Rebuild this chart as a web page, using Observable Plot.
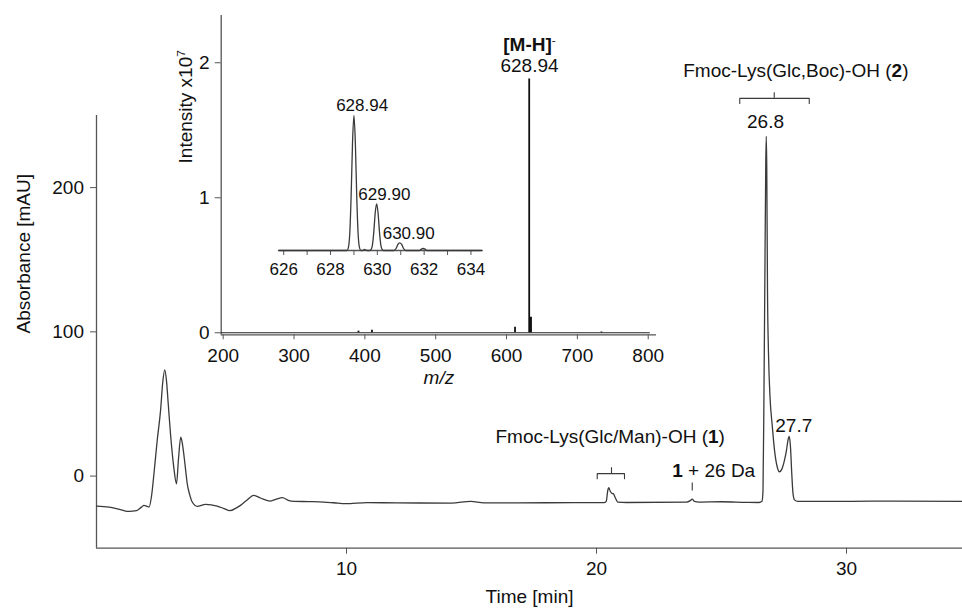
<!DOCTYPE html>
<html><head><meta charset="utf-8">
<script src="https://cdn.jsdelivr.net/npm/d3@7"></script>
<script src="https://cdn.jsdelivr.net/npm/@observablehq/plot@0.6"></script>
<style>
html,body{margin:0;padding:0;background:#fff;}
#wrap{position:relative;width:962px;height:611px;overflow:hidden;}
#wrap svg{position:absolute;max-width:none;overflow:visible;}
</style></head><body><div id="wrap"></div>
<script>
// ---------- HPLC chromatogram ----------
const timeMin = [0, 0.5, 1.0, 1.3, 1.6, 1.8, 1.9, 2.0, 2.1, 2.2, 2.3, 2.43, 2.56, 2.65, 2.73, 2.8, 2.87, 2.96, 3.09, 3.2, 3.28, 3.37, 3.43, 3.49, 3.56, 3.63, 3.73, 3.83, 4.03, 4.36, 4.83, 5.1, 5.33, 5.6, 5.76, 6.0, 6.29, 6.56, 6.96, 7.2, 7.43, 7.7, 7.89, 8.5, 9.09, 9.5, 9.96, 10.83, 12.0, 14.2, 14.97, 15.5, 18.0, 20.3, 20.39, 20.45, 20.49, 20.55, 20.62, 20.67, 20.75, 20.85, 21.2, 23.6, 23.75, 23.83, 23.92, 24.1, 25.0, 26.0, 26.5, 26.62, 26.66, 26.70, 26.74, 26.77, 26.79, 26.81, 26.84, 26.88, 26.94, 27.03, 27.12, 27.22, 27.32, 27.42, 27.52, 27.60, 27.66, 27.71, 27.76, 27.81, 27.86, 27.92, 28.05, 30, 32, 34.64];
const absorbance = [-20.8, -21.5, -23.5, -24.5, -24, -21.5, -20.3, -20.8, -21.5, -14, 2, 25, 45, 65, 73.6, 66, 50, 29.3, 6.2, -5.3, 12, 27, 23, 15.5, 5, -5.3, -13, -18, -21, -19.6, -20.8, -22.5, -24, -22, -20.3, -17, -13.4, -15.2, -17.3, -16, -15, -17, -17.5, -17.7, -18, -18.5, -19.1, -18.4, -18.6, -18.7, -17.5, -18.6, -18.5, -18.4, -17.5, -10, -8, -10.5, -12, -12.2, -15, -18, -18.3, -18, -17, -16, -17.6, -18, -17.8, -18.2, -18.3, -17.5, -10, 60, 150, 215, 235.5, 215, 128, 85, 55, 35, 18, 7, 3, 5, 11, 18, 25, 27.5, 20, 2, -12, -16.5, -17.5, -17.5, -17.3, -17.5];
const timeTicks = [10, 20, 30];
const absTicks = [0, 100, 200];

// ---------- MS spectrum (inset) ----------
const msMz = [391, 410, 612, 632, 634, 734];
const msIntensity = [0.012, 0.018, 0.04, 1.88, 0.115, 0.006];
const msXTicks = [200, 300, 400, 500, 600, 700, 800];
const msYTicks = [0, 1, 2];

// ---------- Isotope pattern (nested inset) ----------
const isoMz = [625.79, 628.70, 628.76, 628.82, 628.88, 628.94, 629.00, 629.06, 629.12, 629.18, 629.24, 629.30, 629.36, 629.46, 629.56, 629.67, 629.73, 629.79, 629.85, 629.91, 629.97, 630.03, 630.09, 630.15, 630.21, 630.27, 630.70, 630.80, 630.88, 630.96, 631.04, 631.12, 631.22, 631.80, 631.88, 631.96, 632.04, 632.12, 634.48];
const isoIntensity = [0, 0, 2, 12, 40, 80, 100, 80, 40, 12, 2, 0, 0, 0.8, 0, 0, 0.7, 4, 14, 28, 34.6, 28, 14, 4, 0.7, 0, 0, 1.5, 4.5, 5.7, 4.5, 1.5, 0, 0, 1, 1.5, 1, 0, 0];
const isoTicks = [626, 627, 628, 629, 630, 631, 632, 633, 634];

const FONT = "'Liberation Sans', Arial, Helvetica, sans-serif";
const AX = "#555", TXT = "#111", TRACE = "#3a3a3a";

const trace = timeMin.map((t, i) => ({t, v: absorbance[i]}));
const ms = msMz.map((mz, i) => ({mz, y: msIntensity[i]}));
const iso = isoMz.map((mz, i) => ({mz, y: isoIntensity[i]}));

const wrap = document.getElementById("wrap");

// ---------- Main chart ----------
const main = Plot.plot({
  width: 962, height: 611,
  marginLeft: 96, marginRight: 0, marginTop: 115, marginBottom: 63.3,
  x: {domain: [0, 34.64]},
  y: {domain: [-50, 250]},
  style: {fontFamily: FONT, fontSize: "19px", background: "transparent", color: TXT, overflow: "visible"},
  marks: [
    Plot.ruleY([-50], {stroke: AX, strokeWidth: 1.3}),
    Plot.ruleX([0], {stroke: AX, strokeWidth: 1.3}),
    Plot.axisX({ticks: timeTicks, tickSize: 6, tickPadding: 7.5, stroke: AX, fill: TXT, label: null, tickFormat: d => String(d)}),
    Plot.axisY({ticks: absTicks, tickSize: 6, tickPadding: 6.5, stroke: AX, fill: TXT, label: null, tickFormat: d => String(d)}),
    Plot.line(trace, {x: "t", y: "v", curve: "monotone-x", stroke: TRACE, strokeWidth: 1.3}),
    // annotations
    Plot.line([{t: 20.03, v: -1.8}, {t: 20.03, v: 1.7}, {t: 21.12, v: 1.7}, {t: 21.12, v: -1.8}], {x: "t", y: "v", stroke: TRACE, strokeWidth: 1.1}),
    Plot.ruleX([{t: 20.6, a: 1.7, b: 5.8}], {x: "t", y1: "a", y2: "b", stroke: TRACE, strokeWidth: 1.1}),
    Plot.line([{t: 25.73, v: 258.4}, {t: 25.73, v: 261.9}, {t: 28.51, v: 261.9}, {t: 28.51, v: 258.4}], {x: "t", y: "v", stroke: TRACE, strokeWidth: 1.1}),
    Plot.ruleX([{t: 27.11, a: 261.9, b: 265.7}], {x: "t", y1: "a", y2: "b", stroke: TRACE, strokeWidth: 1.1}),
    Plot.ruleX([{t: 23.83, a: -10.4, b: -4.8}], {x: "t", y1: "a", y2: "b", stroke: TRACE, strokeWidth: 1.1}),
    Plot.text([{t: 23.47, v: 280.8, s: "Fmoc-Lys(Glc,Boc)-OH (2)"}, {t: 15.96, v: 27, s: "Fmoc-Lys(Glc/Man)-OH (1)"}, {t: 23.03, v: 3.5, s: "1 + 26 Da"}],
      {x: "t", y: "v", text: "s", textAnchor: "start", fill: TXT}),
    Plot.text([{t: 26.76, v: 245.5, s: "26.8"}, {t: 27.89, v: 35.1, s: "27.7"}], {x: "t", y: "v", text: "s", fill: TXT}),
    Plot.text(["Time [min]"], {frameAnchor: "bottom", dy: 55, text: d => d, fill: TXT}),
    Plot.text(["Absorbance [mAU]"], {frameAnchor: "left", rotate: -90, dx: -73, dy: 1.6, text: d => d, fill: TXT})
  ]
});
main.style.left = "0px"; main.style.top = "0px";
wrap.appendChild(main);

// ---------- MS inset ----------
const inset = Plot.plot({
  width: 520, height: 400,
  marginLeft: 60.7, marginRight: 24, marginTop: 15, marginBottom: 65.7,
  x: {domain: [197.2, 811.7]},
  y: {domain: [-0.015, 2.35]},
  style: {fontFamily: FONT, fontSize: "19px", background: "transparent", color: TXT, overflow: "visible"},
  marks: [
    Plot.ruleY([-0.015], {stroke: AX, strokeWidth: 1.3}),
    Plot.ruleX([197.2], {stroke: AX, strokeWidth: 1.3}),
    Plot.axisX({ticks: msXTicks, tickSize: 5, tickPadding: 9, stroke: AX, fill: TXT, label: null, tickFormat: d => String(d)}),
    Plot.axisY({ticks: msYTicks, tickSize: 6, tickPadding: 5.5, stroke: AX, fill: TXT, label: null, tickFormat: d => String(d)}),
    Plot.ruleY([0], {x1: 197.2, x2: 803, stroke: "#222", strokeWidth: 1.1}),
    Plot.ruleX(ms, {x: "mz", y1: 0, y2: "y", stroke: "#111", strokeWidth: d => d.mz === 634 ? 2.6 : 1.8}),
    Plot.text([{mz: 632.4, y: 2.133, s: "[M-H]-"}, {mz: 632.4, y: 1.98, s: "628.94"}], {x: "mz", y: "y", text: "s", fill: TXT}),
    Plot.text(["m/z"], {frameAnchor: "bottom", dy: 49, text: d => d, fontStyle: "italic", fill: TXT}),
    Plot.text(["Intensity x107"], {frameAnchor: "left", rotate: -90, dx: -35.7, dy: -11.7, text: d => d, fill: TXT})
  ]
});
inset.style.left = "160px"; inset.style.top = "0px";
wrap.appendChild(inset);

// ---------- Isotope nested inset ----------
const nested = Plot.plot({
  width: 220, height: 200,
  marginLeft: 8.3, marginRight: 8.3, marginTop: 0, marginBottom: 40,
  x: {domain: [625.79, 634.48]},
  y: {domain: [0, 118.5], axis: null},
  style: {fontFamily: FONT, fontSize: "17px", background: "transparent", color: TXT, overflow: "visible"},
  marks: [
    Plot.ruleY([0], {stroke: AX, strokeWidth: 1.3}),
    Plot.axisX({ticks: isoTicks, tickSize: 5, tickPadding: 7, stroke: AX, fill: TXT, label: null, tickFormat: d => d % 2 === 0 ? String(d) : ""}),
    Plot.line(iso, {x: "mz", y: "y", curve: "monotone-x", stroke: TRACE, strokeWidth: 1.3}),
    Plot.text([{mz: 629.35, y: 107.4, s: "628.94"}, {mz: 630.30, y: 41.3, s: "629.90"}, {mz: 631.34, y: 12.4, s: "630.90"}], {x: "mz", y: "y", text: "s", fill: TXT})
  ]
});
nested.style.left = "270px"; nested.style.top = "90px";
wrap.appendChild(nested);

// ---------- rich text (bold / superscript parts) ----------
function richText(svg, plain, parts) {
  svg.querySelectorAll("text").forEach(t => {
    if (t.textContent === plain) {
      t.textContent = "";
      for (const p of parts) {
        const ts = document.createElementNS("http://www.w3.org/2000/svg", "tspan");
        ts.textContent = p.text;
        if (p.bold) ts.setAttribute("font-weight", "bold");
        if (p.sup) { ts.setAttribute("dy", "-0.55em"); ts.setAttribute("font-size", "0.62em"); }
        t.appendChild(ts);
      }
    }
  });
}
richText(main, "Fmoc-Lys(Glc,Boc)-OH (2)", [{text: "Fmoc-Lys(Glc,Boc)-OH ("}, {text: "2", bold: true}, {text: ")"}]);
richText(main, "Fmoc-Lys(Glc/Man)-OH (1)", [{text: "Fmoc-Lys(Glc/Man)-OH ("}, {text: "1", bold: true}, {text: ")"}]);
richText(main, "1 + 26 Da", [{text: "1", bold: true}, {text: " + 26 Da"}]);
richText(inset, "[M-H]-", [{text: "[M-H]", bold: true}, {text: "-", sup: true}]);
richText(inset, "Intensity x107", [{text: "Intensity x10"}, {text: "7", sup: true}]);
</script></body></html>
